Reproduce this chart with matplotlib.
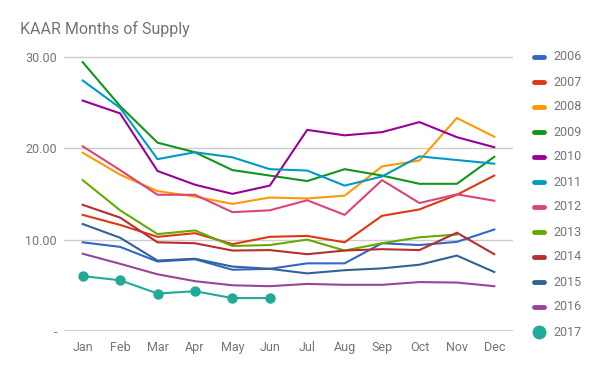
import matplotlib.pyplot as plt
from matplotlib.lines import Line2D

plt.rcParams['font.family'] = ['Roboto', 'DejaVu Sans']

months = ["Jan", "Feb", "Mar", "Apr", "May", "Jun",
          "Jul", "Aug", "Sep", "Oct", "Nov", "Dec"]
years = ["2006", "2007", "2008", "2009", "2010", "2011",
         "2012", "2013", "2014", "2015", "2016", "2017"]

# months of supply
s2006 = [9.7, 9.2, 7.6, 7.85, 6.7, 6.8, 7.4, 7.4, 9.6, 9.4, 9.75, 11.1]
s2007 = [12.7, 11.6, 10.3, 10.7, 9.5, 10.3, 10.4, 9.7, 12.6, 13.3, 14.9, 17.0]
s2008 = [19.5, 17.1, 15.3, 14.7, 13.9, 14.6, 14.5, 14.8, 18.0, 18.65, 23.3, 21.25]
s2009 = [29.4, 24.6, 20.6, 19.55, 17.6, 17.0, 16.4, 17.7, 17.0, 16.1, 16.1, 19.05]
s2010 = [25.2, 23.8, 17.5, 16.0, 15.0, 15.9, 22.0, 21.4, 21.75, 22.85, 21.2, 20.1]
s2011 = [27.4, 24.4, 18.8, 19.55, 19.0, 17.7, 17.55, 15.9, 16.9, 19.1, 18.7, 18.3]
s2012 = [20.2, 17.6, 14.9, 14.9, 13.0, 13.2, 14.3, 12.7, 16.5, 14.0, 14.95, 14.25]
s2013 = [16.5, 13.2, 10.6, 11.0, 9.3, 9.4, 10.0, 8.8, 9.6, 10.25, 10.55]
s2014 = [13.8, 12.4, 9.7, 9.6, 8.8, 8.85, 8.4, 8.8, 8.95, 8.85, 10.75, 8.4]
s2015 = [11.7, 10.2, 7.7, 7.9, 7.05, 6.8, 6.3, 6.65, 6.85, 7.25, 8.25, 6.45]
s2016 = [8.45, 7.35, 6.2, 5.45, 5.0, 4.9, 5.15, 5.05, 5.05, 5.35, 5.3, 4.9]
s2017 = [6.0, 5.55, 4.1, 4.35, 3.6, 3.6]

series = [s2006, s2007, s2008, s2009, s2010, s2011,
          s2012, s2013, s2014, s2015, s2016, s2017]
colors = ["#3366cc", "#dc3912", "#ff9900", "#109618", "#990099", "#0099c6",
          "#dd4477", "#66aa00", "#b82e2e", "#316395", "#994499", "#22aa99"]

fig = plt.figure(figsize=(6, 3.71), dpi=100)
ax = fig.add_axes([64 / 600, 40 / 371, 449 / 600, 288 / 371])

for name, vals, c in zip(years, series, colors):
    if name == "2017":
        ax.plot(months[:len(vals)], vals, color=c, lw=1.5, marker="o",
                markersize=6.5, zorder=3)
    else:
        ax.plot(months[:len(vals)], vals, color=c, lw=1.5, zorder=3)

ax.set_xlim(-0.5, 11.5)
ax.set_ylim(0, 31.5)
ax.set_yticks([0, 10, 20, 30])
ax.set_yticklabels(["-", "10.00", "20.00", "30.00"])
ax.grid(axis="y", color="#cccccc", lw=1)
ax.axhline(0, color="#333333", lw=1, zorder=4)
for sp in ax.spines.values():
    sp.set_visible(False)
ax.tick_params(axis="both", length=0, labelsize=9, colors="#757575")
ax.tick_params(axis="x", pad=7)
ax.tick_params(axis="y", pad=5)

fig.text(20 / 600, 1 - 29 / 371, "KAAR Months of Supply", fontsize=11.5,
         color="#757575", va="center", ha="left")

# legend on the right
for i, (name, c) in enumerate(zip(years, colors)):
    y = 1 - (57 + i * 25) / 371
    if name == "2017":
        fig.add_artist(Line2D([539 / 600], [y], marker="o", markersize=9,
                              color=c, transform=fig.transFigure))
    else:
        fig.add_artist(Line2D([534 / 600, 544 / 600], [y, y], lw=3.5, color=c,
                              solid_capstyle="round", transform=fig.transFigure))
    fig.text(553 / 600, y, name, fontsize=9, color="#757575", va="center", ha="left")

fig.savefig("out.png", dpi=100)
